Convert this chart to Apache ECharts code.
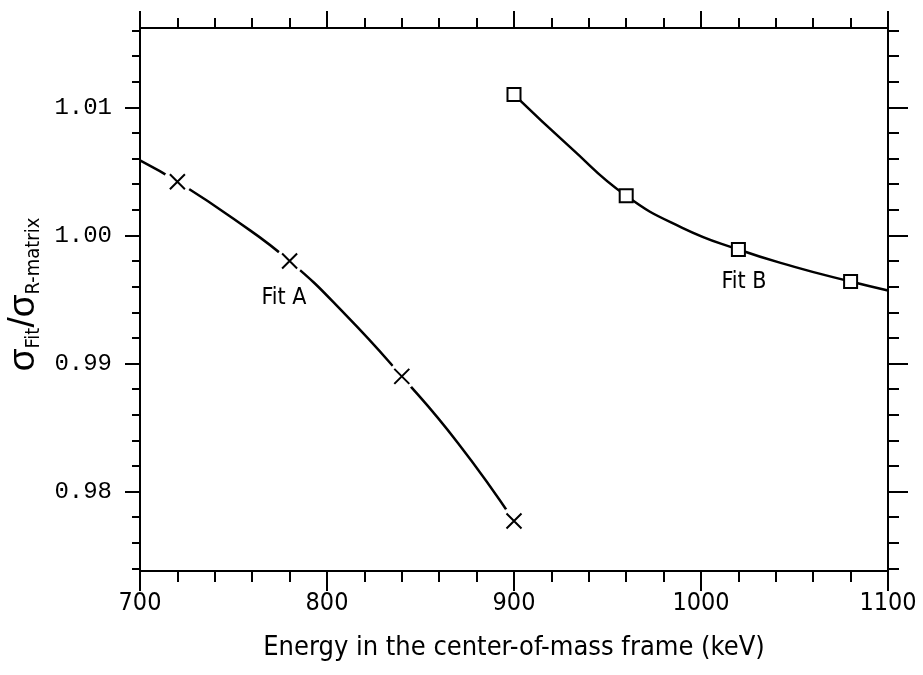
<!DOCTYPE html>
<html>
<head>
<meta charset="utf-8">
<script src="https://cdn.jsdelivr.net/npm/echarts@6/dist/echarts.min.js"></script>
<style>
  html, body { margin: 0; padding: 0; background: #fff; }
  #chart { width: 923px; height: 675px; }
</style>
</head>
<body>
<div id="chart"></div>
<script>
// values
const xTicks = [700, 800, 900, 1000, 1100];
const yMajorTicks = [0.98, 0.99, 1.00, 1.01];
const yMinorTicks = [0.974, 0.976, 0.978, 0.982, 0.984, 0.986, 0.988, 0.992, 0.994, 0.996, 0.998,
  1.002, 1.004, 1.006, 1.008, 1.012, 1.014, 1.016];

const fitACurve = [[700, 1.00586], [720, 1.0042], [750, 1.0013], [780, 0.9980], [810, 0.9938],
  [840, 0.9890], [870, 0.9838], [900, 0.9777]];
const fitAPoints = [[720, 1.0042], [780, 0.9980], [840, 0.9890], [900, 0.9777]];

const fitBCurve = [[900, 1.0110], [930, 1.0069], [960, 1.0031], [990, 1.0006], [1020, 0.9989],
  [1050, 0.99755], [1080, 0.9964], [1100, 0.9957]];
const fitBPoints = [[900, 1.0110], [960, 1.0031], [1020, 0.9989], [1080, 0.9964]];

const labels = [{ name: 'Fit A', value: [777, 0.9951] }, { name: 'Fit B', value: [1023, 0.99633] }];

const narrow = '"Liberation Sans Narrow", "DejaVu Sans Condensed", "Arial Narrow", sans-serif';
const ink = '#000';
const crossPath = 'path://M0,0L10,10M10,0L0,10';

const myChart = echarts.init(document.getElementById('chart'));

const xBase = {
  type: 'value', min: 700, max: 1100, interval: 100,
  axisLine: { show: true, lineStyle: { color: ink, width: 2 } },
  splitLine: { show: false },
  minorTick: { show: true, splitNumber: 5, length: 11, lineStyle: { color: ink, width: 2 } },
  axisTick: { show: true, inside: false, length: 20, lineStyle: { color: ink, width: 2 } }
};

const yBase = {
  type: 'value', min: 0.9738, max: 1.0162,
  splitLine: { show: false },
  axisLine: { show: true, lineStyle: { color: ink, width: 2 } }
};

const option = {
  backgroundColor: '#fff',
  animation: false,
  grid: { left: 140, right: 35, top: 28, bottom: 104, outerBoundsMode: 'none', containLabel: false },
  xAxis: [
    Object.assign({}, xBase, {
      position: 'bottom',
      name: 'Energy in the center-of-mass frame (keV)',
      nameLocation: 'middle', nameGap: 63,
      nameTextStyle: { fontFamily: narrow, fontSize: 27, color: ink },
      axisLabel: { margin: 20, fontFamily: narrow, fontSize: 25, color: ink,
        customValues: xTicks, formatter: v => String(v) }
    }),
    Object.assign({}, xBase, {
      position: 'top',
      axisTick: { show: true, length: 17, lineStyle: { color: ink, width: 2 } },
      minorTick: { show: true, splitNumber: 5, length: 10, lineStyle: { color: ink, width: 2 } },
      axisLabel: { show: false }
    })
  ],
  yAxis: [
    Object.assign({}, yBase, {
      position: 'left',
      name: '{s|σ}{sub|Fit}{s|/σ}{sub|R-matrix}',
      nameLocation: 'middle', nameGap: 88, nameRotate: 90,
      nameTextStyle: {
        color: ink,
        padding: [0, 0, 0, 10],
        rich: {
          s: { fontFamily: 'Liberation Sans', fontSize: 37, lineHeight: 40, color: ink },
          sub: { fontFamily: narrow, fontSize: 20, lineHeight: 19, verticalAlign: 'bottom', color: ink }
        }
      },
      axisTick: { show: true, length: 15, customValues: yMajorTicks, lineStyle: { color: ink, width: 2 } },
      axisLabel: { margin: 28, fontFamily: '"Liberation Mono", "DejaVu Sans Mono", monospace', fontSize: 24,
        color: ink, customValues: yMajorTicks, formatter: v => v.toFixed(2) }
    }),
    Object.assign({}, yBase, {
      position: 'left',
      axisLine: { show: false },
      axisTick: { show: true, length: 8, customValues: yMinorTicks, lineStyle: { color: ink, width: 2 } },
      axisLabel: { show: false }
    }),
    Object.assign({}, yBase, {
      position: 'right',
      axisTick: { show: true, length: 20, customValues: yMajorTicks, lineStyle: { color: ink, width: 2 } },
      axisLabel: { show: false }
    }),
    Object.assign({}, yBase, {
      position: 'right',
      axisLine: { show: false },
      axisTick: { show: true, length: 11, customValues: yMinorTicks, lineStyle: { color: ink, width: 2 } },
      axisLabel: { show: false }
    })
  ],
  series: [
    {
      name: 'Fit A curve', type: 'line', data: fitACurve, smooth: 0.5, showSymbol: false, z: 2,
      lineStyle: { color: ink, width: 2.5 }
    },
    {
      name: 'Fit B curve', type: 'line', data: fitBCurve, smooth: 0.5, showSymbol: false, z: 2,
      lineStyle: { color: ink, width: 2.5 }
    },
    {
      name: 'Fit A gap', type: 'scatter', data: fitAPoints, symbol: 'circle', symbolSize: 28, z: 3,
      itemStyle: { color: '#fff', opacity: 1 }, silent: true
    },
    {
      name: 'Fit A', type: 'scatter', data: fitAPoints, symbol: crossPath, symbolSize: 15, z: 4,
      itemStyle: { color: 'none', borderColor: ink, borderWidth: 2, opacity: 1 }
    },
    {
      name: 'Fit B', type: 'scatter', data: fitBPoints, symbol: 'rect', symbolSize: 13, z: 4,
      itemStyle: { color: '#fff', borderColor: ink, borderWidth: 2, opacity: 1 }
    },
    {
      name: 'labels', type: 'scatter', data: labels, symbolSize: 0, z: 5,
      itemStyle: { opacity: 1 },
      label: { show: true, position: 'inside', formatter: p => p.name,
        fontFamily: narrow, fontSize: 23, color: ink }
    }
  ]
};

option && myChart.setOption(option);
</script>
</body>
</html>
